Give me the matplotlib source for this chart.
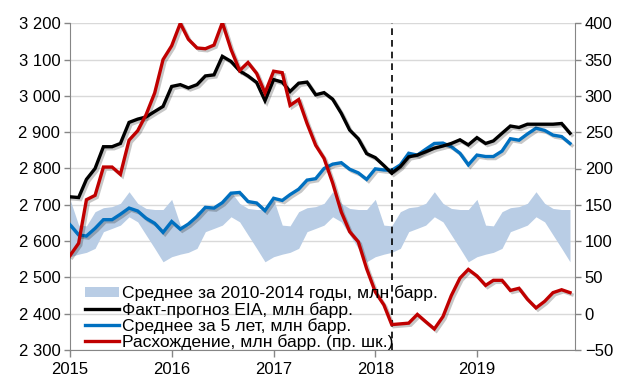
import matplotlib
matplotlib.use("Agg")
import matplotlib.pyplot as plt
import matplotlib.dates as mdates
import matplotlib.patheffects as pe
from matplotlib.patches import Patch
from matplotlib.lines import Line2D
import numpy as np
import pandas as pd

plt.rcParams["font.family"] = ["Liberation Sans", "DejaVu Sans"]

months = pd.date_range("2015-01-01", periods=60, freq="MS")
forecast_date = pd.Timestamp("2018-03-01")

# коридор 2010-2014, млн барр.
band_low = [2557, 2564, 2569, 2580, 2626, 2635, 2644, 2667, 2653, 2617, 2580, 2543,
            2557, 2564, 2569, 2580, 2626, 2635, 2644, 2667, 2653, 2617, 2580, 2543,
            2557, 2564, 2569, 2580, 2626, 2635, 2644, 2667, 2653, 2617, 2580, 2543,
            2557, 2564, 2569, 2580, 2626, 2635, 2644, 2667, 2653, 2617, 2580, 2543,
            2557, 2564, 2569, 2580, 2626, 2635, 2644, 2667, 2653, 2617, 2580, 2543]
band_high = [2715, 2644, 2642, 2681, 2692, 2695, 2704, 2736, 2704, 2690, 2687, 2687,
             2715, 2644, 2642, 2681, 2692, 2695, 2704, 2736, 2704, 2690, 2687, 2687,
             2715, 2644, 2642, 2681, 2692, 2695, 2704, 2736, 2704, 2690, 2687, 2687,
             2715, 2644, 2642, 2681, 2692, 2695, 2704, 2736, 2704, 2690, 2687, 2687,
             2715, 2644, 2642, 2681, 2692, 2695, 2704, 2736, 2704, 2690, 2687, 2687]

eia = [2722, 2720, 2770, 2800, 2860, 2860, 2869, 2927, 2936, 2942, 2957, 2971,
       3026, 3031, 3022, 3031, 3055, 3058, 3109, 3095, 3069, 3055, 3037, 2987,
       3045, 3038, 3012, 3035, 3038, 3003, 3009, 2991, 2952, 2906, 2882, 2841,
       2830, 2808, 2787, 2805, 2832, 2837, 2846, 2856, 2862, 2869, 2879, 2865,
       2885, 2869, 2876, 2897, 2917, 2913, 2922, 2922, 2922, 2922, 2924, 2897]

avg5 = [2645, 2617, 2614, 2635, 2659, 2659, 2674, 2691, 2683, 2663, 2649, 2624,
        2654, 2633, 2647, 2668, 2693, 2691, 2706, 2732, 2734, 2709, 2705, 2684,
        2718, 2712, 2728, 2743, 2768, 2772, 2800, 2812, 2816, 2798, 2788, 2770,
        2799, 2796, 2795, 2810, 2842, 2837, 2853, 2869, 2870, 2860, 2842, 2810,
        2837, 2833, 2833, 2848, 2882, 2878, 2895, 2911, 2905, 2892, 2888, 2869]

diff = [80, 97, 157, 163, 202, 202, 192, 239, 252, 274, 304, 350,
        369, 400, 378, 366, 365, 370, 401, 364, 335, 346, 331, 304,
        334, 332, 287, 295, 262, 232, 214, 180, 140, 113, 99, 62,
        30, 12, -15, -14, -13, -1, -11, -21, -4, 25, 49, 61,
        52, 39, 46, 46, 32, 35, 20, 8, 17, 29, 33, 29]

left_ticks = [2300, 2400, 2500, 2600, 2700, 2800, 2900, 3000, 3100, 3200]
right_ticks = [-50, 0, 50, 100, 150, 200, 250, 300, 350, 400]

band_color = "#B9CDE5"
eia_color = "#000000"
avg_color = "#0070C0"
diff_color = "#C00000"
spine_color = "#868686"

shadow = [pe.SimpleLineShadow(offset=(1.5, -1.5), shadow_color="k", alpha=0.22), pe.Normal()]

fig = plt.figure(figsize=(6.17, 3.78), dpi=100)
ax = fig.add_axes([70 / 617, 1 - 350 / 378, 505 / 617, 326.7 / 378])
ax2 = ax.twinx()

ax.fill_between(months, band_low, band_high, color=band_color, lw=0, zorder=2)
ax.plot(months, avg5, color=avg_color, lw=2.4, zorder=3, path_effects=shadow, solid_joinstyle="miter")
ax.plot(months, eia, color=eia_color, lw=2.4, zorder=4, path_effects=shadow, solid_joinstyle="miter")
ax.axvline(forecast_date, color="k", lw=1.2, ls=(0, (4, 3)), zorder=5)
ax2.plot(months, diff, color=diff_color, lw=2.4, zorder=3, path_effects=shadow, solid_joinstyle="miter")

ax.set_xlim(pd.Timestamp("2015-01-01"), pd.Timestamp("2019-12-19"))
ax.set_ylim(2300, 3200)
ax2.set_ylim(-50, 400)
ax.set_yticks(left_ticks)
ax.set_yticklabels([f"{v:,}".replace(",", " ") for v in left_ticks])
ax2.set_yticks(right_ticks)

ax.xaxis.set_major_locator(mdates.YearLocator())
ax.xaxis.set_major_formatter(mdates.DateFormatter("%Y"))

ax.grid(axis="y", color="#D9D9D9", lw=1)
ax.set_axisbelow(True)
for a in (ax, ax2):
    a.spines["top"].set_visible(False)
    for s in ("left", "right", "bottom"):
        a.spines[s].set_color(spine_color)
    a.tick_params(colors=spine_color, labelcolor="black", labelsize=12, length=4, width=1)
ax.spines["right"].set_visible(False)
ax2.spines["left"].set_visible(False)
ax2.spines["bottom"].set_visible(False)
ax.tick_params(axis="x", length=5, pad=4)
ax.tick_params(axis="y", pad=3)
ax2.tick_params(axis="y", pad=3)

handles = [
    Patch(facecolor=band_color, edgecolor="none"),
    Line2D([], [], color=eia_color, lw=2.4),
    Line2D([], [], color=avg_color, lw=2.4),
    Line2D([], [], color=diff_color, lw=2.4),
]
labels = [
    "Среднее за 2010-2014 годы, млн барр.",
    "Факт-прогноз EIA, млн барр.",
    "Среднее за 5 лет, млн барр.",
    "Расхождение, млн барр. (пр. шк.)",
]
ax2.legend(handles, labels, loc="lower left", bbox_to_anchor=(0.03, 0.0),
           frameon=False, fontsize=12.6, borderpad=0, borderaxespad=0,
           handlelength=1.95, handleheight=0.52, handletextpad=0.15, labelspacing=0.02)

fig.savefig("out.png", dpi=100)
